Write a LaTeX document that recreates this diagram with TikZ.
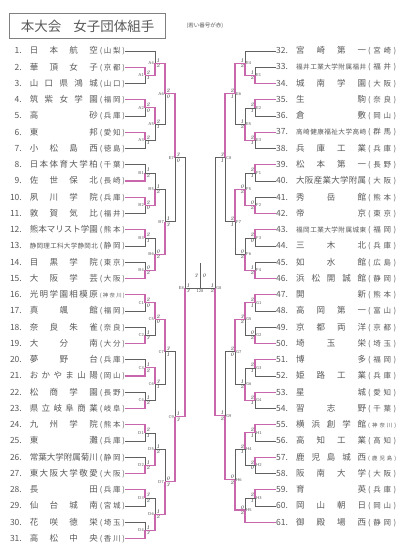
\documentclass[tikz,border=0pt]{standalone}
\usepackage{fontspec}
\newfontfamily\jp{Noto Sans CJK JP}
\usetikzlibrary{calc,positioning}
\definecolor{pinkline}{HTML}{C867AC}
\definecolor{greyline}{HTML}{606060}
\definecolor{inkgrey}{HTML}{5A5A5A}
% spread the letters of a name over its box
\def\spr#1{#1\sprnext}
\def\sprnext#1{\ifx\relax#1\else\hfil#1\expandafter\sprnext\fi}
\newcommand{\teamL}[4]{%
  \makebox[16pt][r]{#1.}\hspace{8pt}%
  \makebox[68pt][s]{\ifnum#4=1 \fontsize{6.5}{7}\selectfont\fi\expandafter\spr#2\relax}\hspace{2pt}%
  \makebox[25pt][s]{\fontsize{7.5}{8}\selectfont\ifnum#4=2 \fontsize{5.4}{6}\selectfont\fi\expandafter\spr\expandafter(#3)\relax}}
\newcommand{\teamR}[4]{%
  \makebox[16pt][l]{#1.}\hspace{4pt}%
  \makebox[70pt][s]{\ifnum#4=1 \fontsize{6.6}{7}\selectfont\fi\expandafter\spr#2\relax}\hspace{2pt}%
  \makebox[28pt][s]{\fontsize{7.5}{8}\selectfont\ifnum#4=2 \fontsize{5.4}{6}\selectfont\fi\expandafter\spr\expandafter(#3)\relax}}
% side, name, x, upper, lower, winner (1/2), upper score, lower score
\newcommand{\mt}[8]{%
  \path let \p1=($(#4)!.5!(#5)$) in coordinate (#2) at (#3pt,\y1);
  \ifnum#6=1 \draw[lose] (#5) -| (#2); \draw[win] (#4) -| (#2);
  \else \draw[lose] (#4) -| (#2); \draw[win] (#5) -| (#2); \fi
  \ifx l#1
    \node[mlab, anchor=east] (#2-l) at ([xshift=-1pt]#2) {#2};
    \node[score, anchor=south west] (#2-a) at ([xshift=1pt,yshift=0.5pt]#2) {#7};
    \node[score, anchor=north west] (#2-b) at ([xshift=1pt,yshift=-0.5pt]#2) {#8};
  \else
    \node[mlab, anchor=west] (#2-l) at ([xshift=1pt]#2) {#2};
    \node[score, anchor=south east] (#2-a) at ([xshift=-1pt,yshift=0.5pt]#2) {#7};
    \node[score, anchor=north east] (#2-b) at ([xshift=-1pt,yshift=-0.5pt]#2) {#8};
  \fi}

\begin{document}
\begin{tikzpicture}[x=1pt, y=-1pt,
    win/.style={draw=pinkline, line width=1.2pt},
    lose/.style={draw=greyline, line width=0.6pt},
    team/.style={inner sep=0pt, font=\jp\fontsize{8.5}{9}\selectfont, text=inkgrey},
    mlab/.style={inner sep=0pt, font=\sffamily\fontsize{4.3}{5}\selectfont, text=inkgrey},
    score/.style={inner sep=0.2pt, font=\itshape\fontsize{5.5}{6}\selectfont, text=black!85}]
  \useasboundingbox[fill=white] (0,0) rectangle (404,553);

  \node[draw=greyline!80, line width=1.3pt, anchor=north west, minimum width=156pt,
        minimum height=25pt, inner sep=0pt, text=inkgrey,
        font=\jp\fontsize{13.5}{14}\selectfont] (title) at (9,13) {本大会\hspace{0.9em}女子団体組手};
  \node[inner sep=0pt, text=inkgrey, font=\jp\fontsize{5.5}{6}\selectfont, right=20pt of title] (note) {(若い番号が赤)};

  % teams
  \foreach \tn/\nm/\pf/\st in {1/日本航空/山梨/0,2/華頂女子/京都/0,3/山口県鴻城/山口/0,
      4/筑紫女学園/福岡/0,5/高砂/兵庫/0,6/東邦/愛知/0,7/小松島西/徳島/0,8/日本体育大学柏/千葉/0,
      9/佐世保北/長崎/0,10/夙川学院/兵庫/0,11/敦賀気比/福井/0,12/熊本マリスト学園/熊本/0,
      13/静岡理工科大学静岡北/静岡/1,14/目黒学院/東京/0,15/大阪学芸/大阪/0,16/光明学園相模原/神奈川/2,
      17/真颯館/福岡/0,18/奈良朱雀/奈良/0,19/大分南/大分/0,20/夢野台/兵庫/0,21/おかやま山陽/岡山/0,
      22/松商学園/長野/0,23/県立岐阜商業/岐阜/0,24/九州学院/熊本/0,25/東灘/兵庫/0,
      26/常葉大学附属菊川/静岡/0,27/東大阪大学敬愛/大阪/0,28/長田/兵庫/0,29/仙台城南/宮城/0,
      30/花咲徳栄/埼玉/0,31/高松中央/香川/0}
    \node[team, anchor=east] (t\tn) at (125,{51+(\tn-1)*16.25}) {\teamL{\tn}{\nm}{\pf}{\st}};
  \foreach \tn/\nm/\pf/\st in {32/宮崎第一/宮崎/0,33/福井工業大学附属福井/福井/1,34/城南学園/大阪/0,
      35/生駒/奈良/0,36/倉敷/岡山/0,37/高崎健康福祉大学高崎/群馬/1,38/兵庫工業/兵庫/0,
      39/松本第一/長野/0,40/大阪産業大学附属/大阪/0,41/秀岳館/熊本/0,42/帝京/東京/0,
      43/福岡工業大学附属城東/福岡/1,44/三木北/兵庫/0,45/如水館/広島/0,46/浜松開誠館/静岡/0,
      47/開新/熊本/0,48/高岡第一/富山/0,49/京都両洋/京都/0,50/埼玉栄/埼玉/0,51/博多/福岡/0,
      52/姫路工業/兵庫/0,53/星城/愛知/0,54/習志野/千葉/0,55/横浜創学館/神奈川/2,56/高知工業/高知/0,
      57/鹿児島城西/鹿児島/2,58/阪南大学/大阪/0,59/育英/兵庫/0,60/岡山朝日/岡山/0,61/御殿場西/静岡/0}
    \node[team, anchor=west] (t\tn) at (276,{51+(\tn-32)*16.25}) {\teamR{\tn}{\nm}{\pf}{\st}};

  % left half
  \mt{l}{A1}{145}{t2.east}{t3.east}{1}{2}{1}
  \mt{l}{A4}{155}{t1.east}{A1}{2}{1}{2}
  \mt{l}{A2}{145}{t4.east}{t5.east}{1}{2}{0}
  \mt{l}{A3}{145}{t6.east}{t7.east}{1}{2}{1}
  \mt{l}{A5}{155}{A2}{A3}{1}{2}{1}
  \mt{l}{A6}{165}{A4}{A5}{1}{2}{0}
  \mt{l}{B1}{145}{t8.east}{t9.east}{2}{1}{2}
  \mt{l}{B2}{145}{t10.east}{t11.east}{1}{2}{0}
  \mt{l}{B3}{145}{t12.east}{t13.east}{1}{2}{1}
  \mt{l}{B4}{145}{t14.east}{t15.east}{2}{0}{2}
  \mt{l}{B5}{155}{B1}{B2}{2}{1}{2}
  \mt{l}{B6}{155}{B3}{B4}{2}{0}{2}
  \mt{l}{B7}{165}{B5}{B6}{2}{1}{3}
  \mt{l}{E7}{175}{A6}{B7}{1}{3}{0}
  \mt{l}{C1}{145}{t16.east}{t17.east}{1}{2}{0}
  \mt{l}{C2}{145}{t18.east}{t19.east}{2}{1}{3}
  \mt{l}{C3}{145}{t20.east}{t21.east}{2}{1}{2}
  \mt{l}{C4}{145}{t22.east}{t23.east}{2}{1}{2}
  \mt{l}{C5}{155}{C1}{C2}{1}{2}{0}
  \mt{l}{C6}{155}{C3}{C4}{1}{3}{1}
  \mt{l}{C7}{165}{C5}{C6}{1}{3}{1}
  \mt{l}{D1}{145}{t24.east}{t25.east}{1}{2}{1}
  \mt{l}{D2}{145}{t26.east}{t27.east}{2}{1}{2}
  \mt{l}{D3}{145}{t28.east}{t29.east}{1}{3}{2}
  \mt{l}{D4}{145}{t30.east}{t31.east}{2}{1}{3}
  \mt{l}{D5}{155}{D1}{D2}{2}{1}{2}
  \mt{l}{D6}{155}{D3}{D4}{2}{1}{2}
  \mt{l}{D7}{165}{D5}{D6}{2}{0}{3}
  \mt{l}{C9}{175}{C7}{D7}{2}{1}{3}

  % right half
  \mt{r}{E1}{255}{t33.west}{t34.west}{2}{1}{2}
  \mt{r}{E4}{245}{t32.west}{E1}{2}{1}{2}
  \mt{r}{E2}{255}{t35.west}{t36.west}{1}{2}{1}
  \mt{r}{E3}{255}{t37.west}{t38.west}{1}{2}{1}
  \mt{r}{E5}{245}{E2}{E3}{2}{1}{2}
  \mt{r}{E6}{235}{E4}{E5}{1}{2}{1}
  \mt{r}{F1}{255}{t39.west}{t40.west}{1}{2}{1}
  \mt{r}{F2}{255}{t41.west}{t42.west}{2}{0}{2}
  \mt{r}{F3}{255}{t43.west}{t44.west}{1}{2}{0}
  \mt{r}{F4}{255}{t45.west}{t46.west}{2}{1}{2}
  \mt{r}{F5}{245}{F1}{F2}{2}{0}{2}
  \mt{r}{F6}{245}{F3}{F4}{2}{0}{2}
  \mt{r}{F7}{235}{F5}{F6}{1}{2}{1}
  \mt{r}{C8}{225}{E6}{F7}{1}{3}{1}
  \mt{r}{G1}{255}{t47.west}{t48.west}{1}{2}{1}
  \mt{r}{G2}{255}{t49.west}{t50.west}{2}{0}{2}
  \mt{r}{G3}{255}{t51.west}{t52.west}{1}{2}{1}
  \mt{r}{G4}{255}{t53.west}{t54.west}{1}{2}{1}
  \mt{r}{G5}{245}{G1}{G2}{1}{3}{2}
  \mt{r}{G6}{245}{G3}{G4}{2}{1}{2}
  \mt{r}{G7}{235}{G5}{G6}{1}{2}{0}
  \mt{r}{H1}{255}{t55.west}{t56.west}{1}{2}{1}
  \mt{r}{H2}{255}{t57.west}{t58.west}{1}{2}{0}
  \mt{r}{H4}{245}{H1}{H2}{1}{2}{1}
  \mt{r}{H3}{255}{t59.west}{t60.west}{1}{2}{1}
  \mt{r}{H5}{245}{H3}{t61.west}{2}{0}{2}
  \mt{r}{H6}{235}{H4}{H5}{2}{0}{2}
  \mt{r}{G9}{225}{G7}{H6}{2}{1}{2}

  % final
  \coordinate (E8) at (185,288);
  \coordinate (G8) at (215,288);
  \coordinate (fin) at (200,288);
  \coordinate (champ) at (200,263);
  \draw[lose] (E7) -| (E8);
  \draw[win] (C9) -| (E8);
  \draw[lose] (C8) -| (G8);
  \draw[win] (G9) -| (G8);
  \draw[lose] (E8) -- (G8);
  \draw[lose] (fin) -- (champ);
  \node[mlab, anchor=east] (E8-l) at ([xshift=-1pt]E8) {E8};
  \node[score, anchor=south west] (E8-a) at ([xshift=1pt,yshift=0.5pt]E8) {1};
  \node[score, anchor=north west] (E8-b) at ([xshift=1pt,yshift=-0.5pt]E8) {3};
  \node[mlab, anchor=west] (G8-l) at ([xshift=1pt]G8) {G8};
  \node[score, anchor=south east] (G8-a) at ([xshift=-1pt,yshift=0.5pt]G8) {1};
  \node[score, anchor=north east] (G8-b) at ([xshift=-1pt,yshift=-0.5pt]G8) {2};
  \node[score, anchor=east] (fin-a) at (198,276) {3};
  \node[score, anchor=west] (fin-b) at (202,276) {0};
  \node[mlab, anchor=north] (fin-l) at ([yshift=-1.5pt]fin) {128};
\end{tikzpicture}
\end{document}
